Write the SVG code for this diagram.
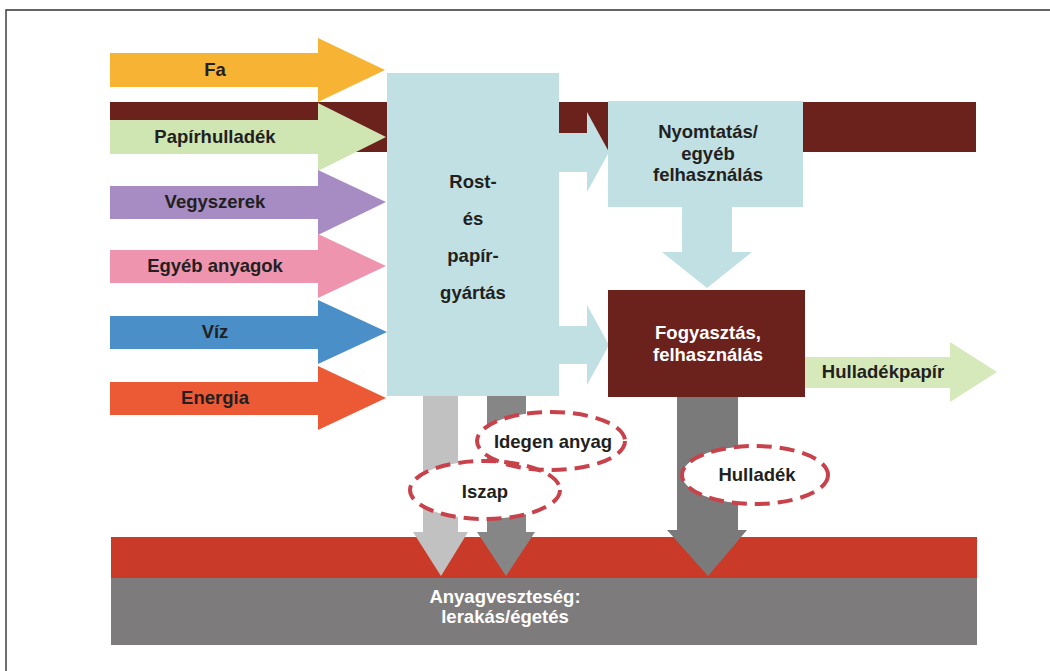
<svg xmlns="http://www.w3.org/2000/svg" width="1050" height="671" viewBox="0 0 1050 671">
<style>
text{font-family:"Liberation Sans",Arial,sans-serif;font-weight:bold;font-size:18.5px;text-anchor:middle;fill:#231f20}
.w{fill:#ffffff}
.lb{fill:#c0e0e3}
.oval{fill:#ffffff;stroke:none}
.ovs{fill:none;stroke:#c8424b;stroke-width:4;stroke-dasharray:15 8}
</style>
<rect x="0" y="0" width="1050" height="671" fill="#ffffff"/>
<path d="M6,671 V10 H1050" fill="none" stroke="#333" stroke-width="1.4"/>

<g id="band-brown"><rect x="110" y="102" width="866" height="50" fill="#6b211c"/></g>
<g id="band-bottom">
<rect x="111" y="537" width="866" height="41" fill="#c93b28"/>
<rect x="111" y="578" width="866" height="67" fill="#7d7b7c"/>
</g>

<g id="in-fa"><path d="M110,53 H318 V38 L385,70 L318,102 V87 H110 Z" fill="#f6b334"/><text x="215" y="76">Fa</text></g>
<g id="in-papirhulladek"><path d="M110,120 H318 V103 L386,137 L318,171 V154 H110 Z" fill="#cfe5b2"/><text x="215" y="143">Papírhulladék</text></g>
<g id="in-vegyszerek"><path d="M110,186 H318 V170 L386,202 L318,235 V219 H110 Z" fill="#a68cc3"/><text x="215" y="208">Vegyszerek</text></g>
<g id="in-egyeb"><path d="M110,250 H318 V234 L386,266 L318,298 V283 H110 Z" fill="#ee94ae"/><text x="215" y="272">Egyéb anyagok</text></g>
<g id="in-viz"><path d="M110,316 H318 V300 L387,332 L318,364 V349 H110 Z" fill="#4a8fc8"/><text x="215" y="338">Víz</text></g>
<g id="in-energia"><path d="M110,382 H318 V366 L386,398 L318,430 V415 H110 Z" fill="#ec5a35"/><text x="215" y="404">Energia</text></g>

<g id="connectors">
<path class="lb" d="M555,133 H587 V112 L609,152 L587,192 V172 H555 Z"/>
<path class="lb" d="M555,326 H587 V305 L609,345 L587,385 V364 H555 Z"/>
<path class="lb" d="M682,205 H732 V252 H752 L707,288 L662,252 H682 Z"/>
<path d="M805,357 H950 V342 L997,372 L950,402 V388 H805 Z" fill="#d6e9bb"/>
<path d="M423,396 H458 V532 H468 L441,576 L413,532 H423 Z" fill="#c2c1c1"/>
<path d="M487,396 H526 V532 H535 L506,576 L477,532 H487 Z" fill="#878687"/>
<path d="M677,397 H738 V530 H747 L708,576 L667,530 H677 Z" fill="#7b7a7a"/>
</g>

<g id="rost"><rect x="387" y="73" width="172" height="323" class="lb"/>
<text x="473" y="188">Rost-</text><text x="473" y="225">és</text><text x="473" y="262">papír-</text><text x="473" y="299">gyártás</text></g>

<g id="nyomtatas"><rect x="608" y="101" width="195" height="106" class="lb"/>
<text x="708" y="138">Nyomtatás/</text><text x="708" y="160">egyéb</text><text x="708" y="181">felhasználás</text></g>

<g id="fogyasztas"><rect x="608" y="290" width="197" height="107" fill="#6b211c"/>
<text class="w" x="708" y="339">Fogyasztás,</text><text class="w" x="708" y="361">felhasználás</text></g>

<text x="883" y="378">Hulladékpapír</text>

<g id="ovals">
<ellipse class="oval" cx="551" cy="441" rx="74" ry="29"/>
<ellipse class="oval" cx="485" cy="490" rx="75" ry="29"/>
<ellipse class="oval" cx="755" cy="475" rx="73" ry="29"/>
<ellipse class="ovs" cx="551" cy="441" rx="74" ry="29"/>
<ellipse class="ovs" cx="485" cy="490" rx="75" ry="29"/>
<ellipse class="ovs" cx="755" cy="475" rx="73" ry="29"/>
</g>
<g id="idegen"><text x="553" y="448">Idegen anyag</text></g>
<g id="iszap"><text x="485" y="498">Iszap</text></g>
<g id="hulladek"><text x="757" y="481">Hulladék</text></g>

<g id="anyagveszteseg"><text class="w" x="505" y="603">Anyagveszteség:</text><text class="w" x="505" y="623">lerakás/égetés</text></g>
</svg>
